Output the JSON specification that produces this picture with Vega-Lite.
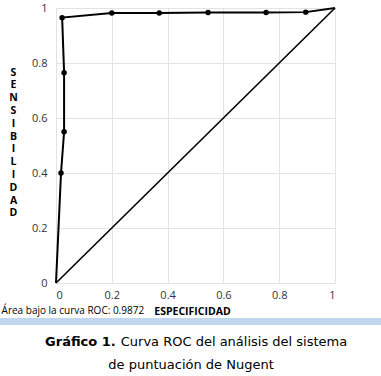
{
  "$schema": "https://vega.github.io/schema/vega-lite/v6.json",
  "width": 279,
  "height": 275,
  "autosize": "none",
  "padding": {"left": 56, "top": 8, "right": 46, "bottom": 93},
  "background": "white",
  "config": {
    "view": {"stroke": null},
    "axis": {
      "grid": true,
      "gridColor": "#e3e3e3",
      "gridWidth": 1,
      "domain": false,
      "ticks": false,
      "labelFont": "Open Sans",
      "labelFontSize": 11,
      "labelColor": "#333333",
      "titleFont": "Open Sans",
      "titleFontWeight": "bold",
      "titleFontSize": 10,
      "titleColor": "#000000"
    }
  },
  "datasets": {
    "roc": [
      {"i": 0, "esp": 0.0, "sens": 0.0},
      {"i": 1, "esp": 0.018, "sens": 0.40},
      {"i": 2, "esp": 0.029, "sens": 0.55},
      {"i": 3, "esp": 0.029, "sens": 0.765},
      {"i": 4, "esp": 0.022, "sens": 0.965},
      {"i": 5, "esp": 0.2, "sens": 0.982},
      {"i": 6, "esp": 0.37, "sens": 0.982},
      {"i": 7, "esp": 0.545, "sens": 0.984},
      {"i": 8, "esp": 0.753, "sens": 0.984},
      {"i": 9, "esp": 0.895, "sens": 0.985},
      {"i": 10, "esp": 1.0, "sens": 1.0}
    ],
    "diag": [
      {"esp": 0.0, "sens": 0.0},
      {"esp": 1.0, "sens": 1.0}
    ]
  },
  "layer": [
    {
      "data": {"name": "diag"},
      "mark": {"type": "line", "color": "#000000", "strokeWidth": 1.6},
      "encoding": {
        "x": {
          "field": "esp", "type": "quantitative",
          "scale": {"domain": [0, 1], "nice": false, "zero": false},
          "axis": {
            "values": [0, 0.2, 0.4, 0.6, 0.8, 1],
            "format": ".1~f",
            "labelPadding": 6,
            "title": "ESPECIFICIDAD",
            "titleX": 136,
            "titleY": 28,
            "titleBaseline": "middle",
            "titleFontSize": 10.5
          }
        },
        "y": {
          "field": "sens", "type": "quantitative",
          "scale": {"domain": [0, 1], "nice": false, "zero": false},
          "axis": {
            "values": [0, 0.2, 0.4, 0.6, 0.8, 1],
            "format": ".1~f",
            "labelPadding": 9,
            "title": ["S","E","N","S","I","B","I","L","I","D","A","D"],
            "titleAngle": 0,
            "titleAlign": "center",
            "titleBaseline": "middle",
            "titleX": -43,
            "titleY": 64,
            "titleLineHeight": 12.8,
            "titleFontSize": 10.5
          }
        }
      }
    },
    {
      "data": {"name": "roc"},
      "mark": {"type": "line", "color": "#000000", "strokeWidth": 2},
      "encoding": {
        "x": {"field": "esp", "type": "quantitative"},
        "y": {"field": "sens", "type": "quantitative"},
        "order": {"field": "i", "type": "quantitative"}
      }
    },
    {
      "data": {"name": "roc"},
      "transform": [{"filter": "datum.sens > 0 && datum.sens < 1"}],
      "mark": {"type": "point", "filled": true, "color": "#000000", "opacity": 1, "size": 30},
      "encoding": {
        "x": {"field": "esp", "type": "quantitative"},
        "y": {"field": "sens", "type": "quantitative"}
      }
    },
    {
      "data": {"values": [{"t": "Área bajo la curva ROC: 0.9872"}]},
      "mark": {"type": "text", "align": "left", "baseline": "middle", "font": "Open Sans", "fontSize": 10, "color": "#000000"},
      "encoding": {
        "x": {"datum": -0.195},
        "y": {"datum": -0.1},
        "text": {"field": "t"}
      }
    },
    {
      "data": {"values": [{"a": 1}]},
      "mark": {"type": "rect", "color": "#c0d6ee"},
      "encoding": {
        "x": {"datum": -0.21},
        "x2": {"datum": 1.18},
        "y": {"datum": -0.127},
        "y2": {"datum": -0.153}
      }
    },
    {
      "data": {"values": [{"t": "Gráfico 1."}]},
      "mark": {"type": "text", "align": "right", "baseline": "middle", "font": "DejaVu Sans", "fontWeight": "bold", "fontSize": 13, "color": "#000000"},
      "encoding": {
        "x": {"datum": 0.214},
        "y": {"datum": -0.215},
        "text": {"field": "t"}
      }
    },
    {
      "data": {"values": [{"t": "Curva ROC del análisis del sistema"}]},
      "mark": {"type": "text", "align": "left", "baseline": "middle", "font": "DejaVu Sans", "fontSize": 13, "color": "#000000"},
      "encoding": {
        "x": {"datum": 0.232},
        "y": {"datum": -0.215},
        "text": {"field": "t"}
      }
    },
    {
      "data": {"values": [{"t": "de puntuación  de Nugent"}]},
      "mark": {"type": "text", "align": "center", "baseline": "middle", "font": "DejaVu Sans", "fontSize": 13, "color": "#000000"},
      "encoding": {
        "x": {"datum": 0.484},
        "y": {"datum": -0.298},
        "text": {"field": "t"}
      }
    }
  ]
}
